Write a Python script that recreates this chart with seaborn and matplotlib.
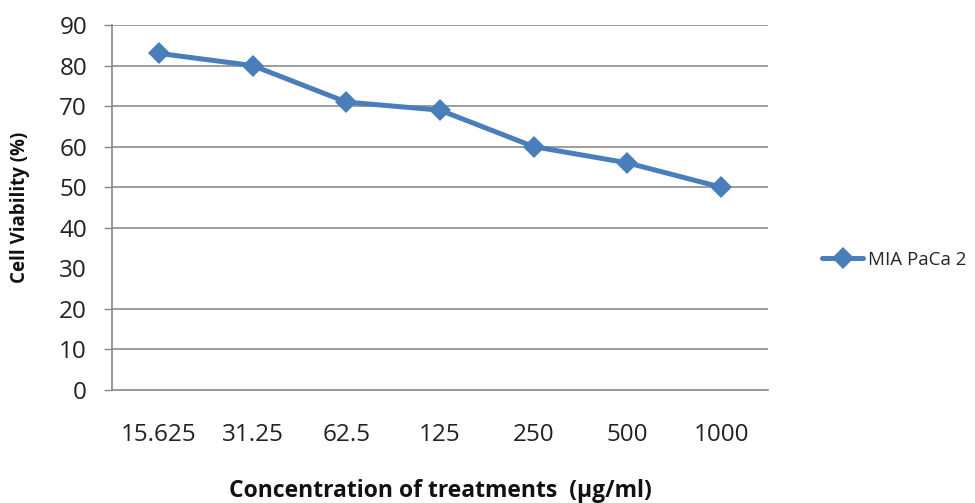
import matplotlib
matplotlib.use("Agg")
import matplotlib.pyplot as plt
import pandas as pd
import seaborn as sns

concentrations = ["15.625", "31.25", "62.5", "125", "250", "500", "1000"]
viability = [83, 80, 71, 69, 60, 56, 50]
series_name = "MIA PaCa 2"
y_ticks = [0, 10, 20, 30, 40, 50, 60, 70, 80, 90]
# the 30 gridline is absent in the source image
grid_values = [10, 20, 40, 50, 60, 70, 80, 90]

sns.set_theme(style="white")
plt.rcParams['font.family'] = ['Open Sans', 'DejaVu Sans']

data = pd.DataFrame({"conc": concentrations, "viab": viability, "series": series_name})

fig = plt.figure(figsize=(9.75, 5.03), dpi=100)
ax = fig.add_axes([0.1149, 0.2247, 0.6728, 0.7256])

for g in grid_values:
    ax.axhline(g, color="#8c8c8c", linewidth=1.2, zorder=0)

sns.lineplot(data=data, x="conc", y="viab", hue="series", palette=["#4a7ebb"],
             marker="D", markersize=11, linewidth=3.6, markeredgewidth=0,
             sort=False, ax=ax, zorder=3)

ax.set_xlim(-0.5, len(concentrations) - 0.5)
ax.set_ylim(0, 90)
ax.set_yticks(y_ticks)
ax.set_yticklabels([str(v) for v in y_ticks], fontsize=17.5, color="#222222")
ax.set_xticks(range(len(concentrations)))
ax.set_xticklabels(concentrations, fontsize=17.5, color="#222222")
ax.set_xticks([i - 0.5 for i in range(len(concentrations) + 1)], minor=True)
ax.tick_params(axis="x", which="major", length=0, pad=24)
ax.tick_params(axis="x", which="minor", length=6, width=1, color="#888888", direction="out")
ax.tick_params(axis="y", length=6, width=1, color="#888888", direction="out", left=True, pad=12)
ax.yaxis.get_major_ticks()[3].tick1line.set_visible(False)

for s in ["top", "right"]:
    ax.spines[s].set_visible(False)
for s in ["left", "bottom"]:
    ax.spines[s].set_color("#888888")
    ax.spines[s].set_linewidth(1.2)

ax.set_xlabel("Concentration of treatments  (μg/ml)", fontsize=16.5, fontweight="bold", color="#111111")
ax.set_ylabel("Cell Viability (%)", fontsize=13.5, fontweight="bold", color="#111111")
ax.xaxis.set_label_coords(0.5, -0.245)
ax.yaxis.set_label_coords(-0.125, 0.5)

ax.legend(title=None, loc="center left", bbox_to_anchor=(1.065, 0.356), frameon=False,
          fontsize=13.5, handlelength=2.2, handletextpad=0.25, borderaxespad=0.2)

fig.savefig("out.png", dpi=100)
